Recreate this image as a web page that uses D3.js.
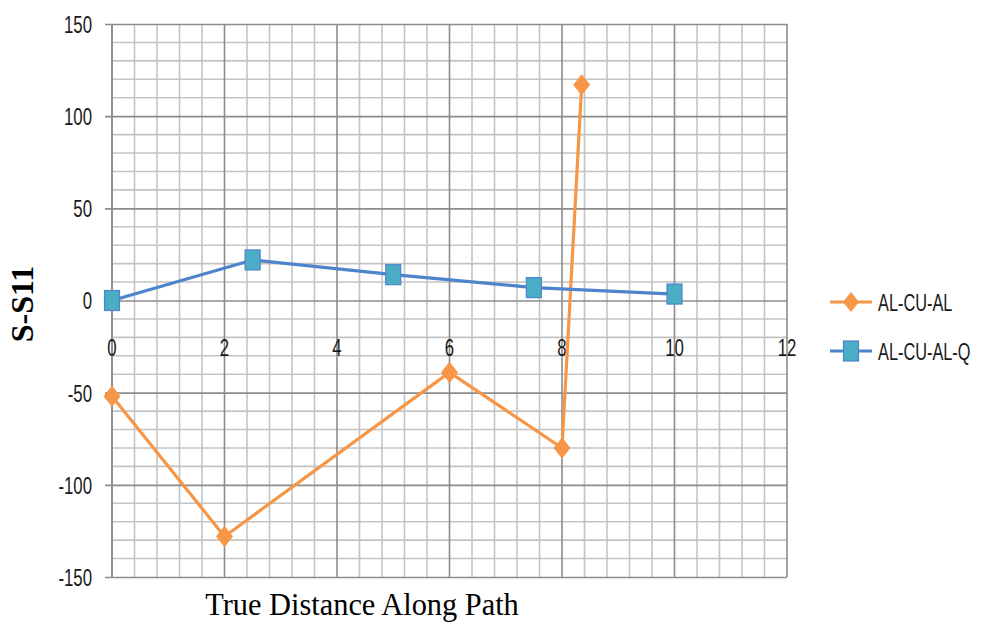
<!DOCTYPE html>
<html>
<head>
<meta charset="utf-8">
<script src="https://cdn.jsdelivr.net/npm/d3@7"></script>
<style>
  body { margin: 0; background: #fff; }
  svg { display: block; }
</style>
</head>
<body>
<div id="chart"></div>
<script>
// series values
const alX = [0, 2, 6, 8, 8.35];
const alY = [-52, -128, -39, -80, 117];
const qX = [0, 2.5, 5, 7.5, 10];
const qY = [0, 22, 14, 7, 3.5];

const xTicks = [0, 2, 4, 6, 8, 10, 12];
const yTicks = [-150, -100, -50, 0, 50, 100, 150];
const seriesNames = ["AL-CU-AL", "AL-CU-AL-Q"];

const width = 984, height = 626;
const orange = "#F79646", blueLine = "#4D84CC", blueFill = "#4BACC6";

const svg = d3.select("#chart").append("svg")
    .attr("width", width)
    .attr("height", height);

const x = d3.scaleLinear().domain([0, 12]).range([112, 787]);
const y = d3.scaleLinear().domain([-150, 150]).range([577, 24]);

// minor grid
const minorX = d3.range(0, 12.001, 0.4).filter(v => Math.abs(v / 2 - Math.round(v / 2)) > 1e-6);
const minorY = d3.range(-150, 151, 10).filter(v => v % 50 !== 0);

svg.append("g")
    .selectAll("line").data(minorX).join("line")
    .attr("x1", d => x(d)).attr("x2", d => x(d))
    .attr("y1", y(150)).attr("y2", y(-150))
    .attr("stroke", "#c3c3c3").attr("stroke-width", 1.6);
svg.append("g")
    .selectAll("line").data(minorY).join("line")
    .attr("x1", x(0)).attr("x2", x(12))
    .attr("y1", d => y(d)).attr("y2", d => y(d))
    .attr("stroke", "#c3c3c3").attr("stroke-width", 1.6);

// major grid
svg.append("g")
    .selectAll("line").data(xTicks).join("line")
    .attr("x1", d => x(d)).attr("x2", d => x(d))
    .attr("y1", y(150)).attr("y2", y(-150))
    .attr("stroke", "#8c8c8c").attr("stroke-width", 1.6);

// y axis: ticks extend left of the plot
const yAxis = svg.append("g")
    .attr("transform", "translate(" + x(0) + ",0)")
    .call(d3.axisLeft(y).tickValues(yTicks).tickSize(7).tickFormat(""));
yAxis.select(".domain").remove();
yAxis.selectAll(".tick line")
    .attr("x2", x(12) - x(0))
    .attr("x1", -7)
    .attr("stroke", "#8c8c8c").attr("stroke-width", 1.6);
yAxis.selectAll(".tick").append("text")
    .attr("fill", "#1a1a1a")
    .attr("text-anchor", "end")
    .attr("dy", "0.35em")
    .attr("font-family", "Liberation Sans, Arial, sans-serif")
    .attr("font-size", 24)
    .attr("transform", "translate(-20,0) scale(0.7,1)")
    .text(d => d);

// left axis line
svg.append("line")
    .attr("x1", x(0)).attr("x2", x(0))
    .attr("y1", y(150)).attr("y2", y(-150))
    .attr("stroke", "#8c8c8c").attr("stroke-width", 1.6);

// x tick labels below the zero line
svg.append("g")
    .selectAll("text").data(xTicks).join("text")
    .attr("fill", "#1a1a1a")
    .attr("text-anchor", "middle")
    .attr("font-family", "Liberation Sans, Arial, sans-serif")
    .attr("font-size", 24)
    .attr("transform", d => "translate(" + x(d) + "," + (y(0) + 55) + ") scale(0.7,1)")
    .text(d => d);

// series
const line = d3.line().x(d => x(d[0])).y(d => y(d[1]));
const alData = alX.map((v, i) => [v, alY[i]]);
const qData = qX.map((v, i) => [v, qY[i]]);

svg.append("path")
    .datum(alData)
    .attr("d", line)
    .attr("fill", "none").attr("stroke", orange).attr("stroke-width", 3.2)
    .attr("stroke-linejoin", "round");

svg.append("path")
    .datum(qData)
    .attr("d", line)
    .attr("fill", "none").attr("stroke", blueLine).attr("stroke-width", 3.2)
    .attr("stroke-linejoin", "round");

const diamond = "M0,-10L8,0L0,10L-8,0Z";

svg.append("g")
    .selectAll("path").data(alData).join("path")
    .attr("d", diamond)
    .attr("transform", d => "translate(" + x(d[0]) + "," + y(d[1]) + ")")
    .attr("fill", orange).attr("stroke", orange).attr("stroke-width", 1);

svg.append("g")
    .selectAll("rect").data(qData).join("rect")
    .attr("x", d => x(d[0]) - 7.5).attr("y", d => y(d[1]) - 10)
    .attr("width", 15).attr("height", 20)
    .attr("fill", blueFill).attr("stroke", blueLine).attr("stroke-width", 1.2);

// legend
const legend = svg.append("g");
const legY = [302, 351];
const legColors = [orange, blueLine];
seriesNames.forEach((name, i) => {
    const gy = legY[i];
    legend.append("line")
        .attr("x1", 830).attr("x2", 872).attr("y1", gy).attr("y2", gy)
        .attr("stroke", legColors[i]).attr("stroke-width", 3.2);
    if (i === 0) {
        legend.append("path").attr("d", diamond)
            .attr("transform", "translate(851," + gy + ")")
            .attr("fill", orange);
    } else {
        legend.append("rect")
            .attr("x", 851 - 7.5).attr("y", gy - 10).attr("width", 15).attr("height", 20)
            .attr("fill", blueFill).attr("stroke", blueLine).attr("stroke-width", 1.2);
    }
    legend.append("text")
        .attr("transform", "translate(878," + gy + ") scale(0.68,1)")
        .attr("dy", "0.36em")
        .attr("fill", "#1a1a1a")
        .attr("font-family", "Liberation Sans, Arial, sans-serif")
        .attr("font-size", 24)
        .text(name);
});

// axis titles
svg.append("text")
    .attr("transform", "translate(33,304) rotate(-90)")
    .attr("text-anchor", "middle")
    .attr("font-family", "Liberation Serif, Times New Roman, serif")
    .attr("font-weight", "bold")
    .attr("font-size", 32)
    .text("S-S11");

svg.append("text")
    .attr("transform", "translate(362,615) scale(0.98,1)")
    .attr("text-anchor", "middle")
    .attr("font-family", "Liberation Serif, Times New Roman, serif")
    .attr("font-size", 31)
    .text("True Distance Along Path");
</script>
</body>
</html>
